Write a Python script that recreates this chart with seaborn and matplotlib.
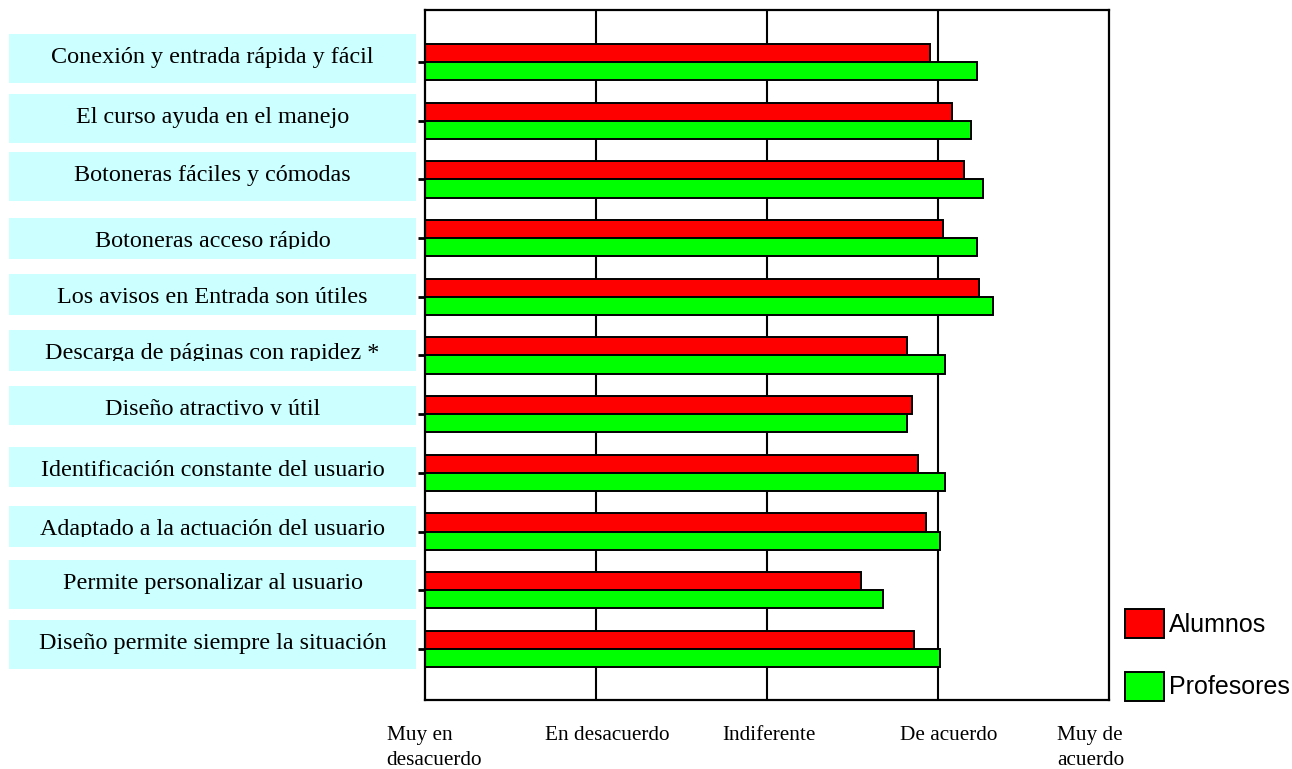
import matplotlib
matplotlib.use("Agg")
import matplotlib.pyplot as plt
import matplotlib.patches as mpatches
import matplotlib.transforms as mtransforms
import seaborn as sns
import pandas as pd

categories = [
    "Conexión y entrada rápida y fácil",
    "El curso ayuda en el manejo",
    "Botoneras fáciles y cómodas",
    "Botoneras acceso rápido",
    "Los avisos en Entrada son útiles",
    "Descarga de páginas con rapidez *",
    "Diseño atractivo y útil",
    "Identificación constante del usuario",
    "Adaptado a la actuación del usuario",
    "Permite personalizar al usuario",
    "Diseño permite siempre la situación",
]
alumnos = [3.95, 4.08, 4.15, 4.03, 4.24, 3.82, 3.85, 3.88, 3.93, 3.55, 3.86]
profesores = [4.23, 4.19, 4.26, 4.23, 4.32, 4.04, 3.82, 4.04, 4.01, 3.68, 4.01]
series_names = ["Alumnos", "Profesores"]
tick_values = [1, 2, 3, 4, 5]
tick_labels = ["Muy en\ndesacuerdo", "En desacuerdo", "Indiferente", "De acuerdo", "Muy de\nacuerdo"]

df = pd.DataFrame({
    "cat": categories * 2,
    "grp": [series_names[0]] * len(categories) + [series_names[1]] * len(categories),
    "val": alumnos + profesores,
})

W, H = 1292, 769
sns.set_theme(style="white")
plt.rcParams["font.family"] = ["Liberation Serif", "DejaVu Serif"]
plt.rcParams["text.color"] = "black"
plt.rcParams["xtick.color"] = "black"
plt.rcParams["ytick.color"] = "black"
plt.rcParams["xtick.labelcolor"] = "black"

fig = plt.figure(figsize=(W / 100, H / 100), dpi=100)
ax = fig.add_axes([425.5 / W, 1 - 700 / H, (1109 - 425.5) / W, (700 - 10) / H])

sns.barplot(data=df, y="cat", x="val", hue="grp", orient="h", ax=ax,
            palette={"Alumnos": "#FF0000", "Profesores": "#00FF00"},
            saturation=1, edgecolor="black", linewidth=1.4, width=0.62,
            order=categories, hue_order=series_names, legend=True)

ax.set_xlim(1, 5)
ax.set_ylim(10.87, -0.886)
ax.set_xlabel("")
ax.set_ylabel("")
ax.set_xticks(tick_values)
ax.set_xticklabels(tick_labels, fontsize=15.3, multialignment="left",
                   linespacing=1.43, color="black")
ax.tick_params(axis="x", length=0, pad=18.9)
ax.tick_params(axis="y", length=5, width=2, color="black", direction="out", labelleft=False, left=True)
label_shift_px = [9, 11, 2, 11, -18]
for lbl, dx in zip(ax.get_xticklabels(), label_shift_px):
    lbl.set_transform(lbl.get_transform() + mtransforms.ScaledTranslation(dx / 100, 0, fig.dpi_scale_trans))
for xv in tick_values[1:-1]:
    ax.axvline(xv, color="black", lw=1.5, zorder=0.5)
for s in ax.spines.values():
    s.set_visible(True)
    s.set_color("black")
    s.set_linewidth(1.6)

# legend
handles, labels = ax.get_legend_handles_labels()
leg = ax.legend(handles, labels, loc="upper left",
                bbox_to_anchor=(1125 / W, 1 - 609 / H), bbox_transform=fig.transFigure,
                frameon=False, borderpad=0, borderaxespad=0,
                handlelength=1.56, handleheight=1.4, handletextpad=0.2,
                labelspacing=1.35,
                prop={"family": "Liberation Sans", "size": 18})
for t in leg.get_texts():
    t.set_color("black")

# label boxes
box_tops = [34, 94, 152, 218, 274, 330, 386, 447, 506, 560, 620]
box_bottoms = [83, 143, 201, 259, 315, 371, 425, 487, 547, 609, 669]
for cat, t, b in zip(categories, box_tops, box_bottoms):
    rect = mpatches.Rectangle((9 / W, 1 - b / H), (416 - 9) / W, (b - t) / H,
                              transform=fig.transFigure, facecolor="#CCFFFF",
                              edgecolor="none", zorder=1)
    fig.patches.append(rect)
    clip = mpatches.Rectangle((9 / W, 1 - (b - 10.5) / H), (416 - 9) / W, (b - 10.5 - t) / H,
                              transform=fig.transFigure, facecolor="none",
                              edgecolor="none")
    txt = fig.text(212.5 / W, 1 - (t + 29) / H, cat, ha="center", va="baseline",
                   fontsize=17.4, color="black", zorder=2)
    txt.set_clip_path(clip)

fig.savefig("out.png", dpi=100)
